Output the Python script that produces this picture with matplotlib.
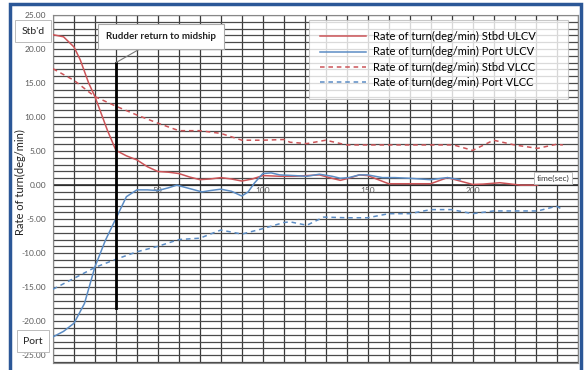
import matplotlib
matplotlib.use("Agg")
import matplotlib.pyplot as plt
from matplotlib.patches import Rectangle

plt.rcParams['font.family'] = ['Lato', 'DejaVu Sans']

# ---- data (time in seconds, rate of turn in deg/min) ----
t_stbd_ulcv = [0, 5, 10, 13, 17, 20, 23, 26, 30, 35, 40, 45, 50, 55, 60, 65, 70, 75, 80, 85, 90, 95,
               100, 108, 115, 121, 127, 133, 137, 142, 146, 150, 155, 160, 170, 180, 188, 194, 200,
               205, 213, 220, 223, 231]
v_stbd_ulcv = [22.1, 21.8, 20.3, 18.4, 15.0, 13.0, 10.5, 8.0, 5.1, 4.3, 3.7, 2.7, 2.0, 1.9, 1.7, 1.2,
               0.8, 0.9, 1.1, 0.9, 0.6, 0.9, 1.4, 1.3, 1.3, 1.4, 1.5, 1.0, 0.7, 1.1, 1.5, 1.4, 0.8,
               0.2, 0.2, 0.2, 1.1, 0.6, 0.1, 0.15, 0.35, 0.1, 0.0, 0.0]

t_port_ulcv = [0, 5, 10, 15, 20, 25, 30, 35, 40, 45, 50, 55, 59, 65, 71, 75, 80, 85, 90, 93, 96,
               100, 104, 108, 115, 121, 127, 133, 137, 141, 146, 150, 157, 163, 170, 180, 188, 194]
v_port_ulcv = [-22.3, -21.5, -20.3, -17.4, -12.0, -8.1, -4.9, -1.7, -0.7, -0.7, -0.8, -0.4, 0.0,
               -0.5, -1.0, -0.8, -0.6, -0.9, -1.6, -1.0, 0.3, 1.7, 1.8, 1.5, 1.4, 1.3, 1.6, 1.3, 1.0,
               1.1, 1.5, 1.5, 1.1, 1.1, 1.0, 0.8, 1.1, 0.8]

t_stbd_vlcc = [0, 10, 20, 30, 40, 50, 60, 70, 80, 90, 100, 110, 113, 121, 130, 140, 150, 160, 170,
               180, 191, 200, 210, 220, 231, 240, 243]
v_stbd_vlcc = [17.1, 15.4, 13.0, 11.6, 10.3, 9.1, 8.0, 8.0, 7.6, 6.6, 6.6, 6.7, 6.3, 6.1, 6.6, 5.9,
               5.9, 5.9, 5.9, 5.9, 5.9, 5.1, 6.6, 5.9, 5.4, 6.0, 5.9]

t_port_vlcc = [0, 10, 20, 30, 40, 50, 60, 70, 80, 90, 100, 110, 113, 121, 129, 140, 150, 160, 170,
               180, 190, 200, 210, 220, 231, 240, 243]
v_port_vlcc = [-15.3, -13.7, -12.1, -10.9, -9.8, -9.0, -8.0, -7.8, -6.6, -7.2, -6.4, -5.5, -5.4,
               -5.9, -4.7, -4.8, -4.8, -4.2, -4.2, -3.6, -3.6, -4.2, -3.8, -3.8, -3.8, -3.1, -3.6]

series_labels = ["Rate of turn(deg/min) Stbd ULCV", "Rate of turn(deg/min) Port ULCV",
                 "Rate of turn(deg/min) Stbd VLCC", "Rate of turn(deg/min) Port VLCC"]
y_ticks = [25, 20, 15, 10, 5, 0, -5, -10, -15, -20, -25]
x_tick_labels = [50, 100, 150, 200]
rudder_time = 30

RED = '#CC5458'
BLUE = '#5B8CC4'

W, H = 588, 370
AX_L, AX_R, AX_T, AX_B = 53, 577.5, 15, 362.7

fig = plt.figure(figsize=(W / 100, H / 100), dpi=100)
fig.patch.set_facecolor('white')
ax = fig.add_axes([AX_L / W, 1 - AX_B / H, (AX_R - AX_L) / W, (AX_B - AX_T) / H])

# outer blue frame
fig.patches.append(Rectangle((10 / W, -0.05), 571 / W, 1 - 4 / H + 0.05,
                             transform=fig.transFigure, fill=False, ec='#2B5797', lw=2.5,
                             clip_on=False))

ax.set_xlim(0, 250)
ax.set_ylim(-26.1, 25)

# grid
for x in range(0, 251, 10):
    ax.axvline(x, color='#3a3a3a', lw=0.9, zorder=1)
for y in range(-26, 26):
    ax.axhline(y, color='#4a4a4a', lw=0.9, zorder=1)
ax.axhline(0, color='#222222', lw=1.1, zorder=1.5)
for s in ax.spines.values():
    s.set_color('#888888')
    s.set_linewidth(0.8)

ax.set_xticks([])
ax.set_yticks(y_ticks)
ax.set_yticklabels([f"{v:.2f}" for v in y_ticks], fontsize=6, color='#595959')
ax.tick_params(axis='y', length=0, pad=5)

for xv in x_tick_labels:
    ax.text(xv, -0.35, str(xv), ha='center', va='top', fontsize=6, color='#595959', zorder=3)

fig.text(20 / W, 1 - 182 / H, "Rate of turn(deg/min)", rotation=90, ha='center', va='center',
         fontsize=8, color='#222222')

l1, = ax.plot(t_stbd_ulcv, v_stbd_ulcv, color=RED, lw=1.1, zorder=4)
l2, = ax.plot(t_port_ulcv, v_port_ulcv, color=BLUE, lw=1.1, zorder=4)
l3, = ax.plot(t_stbd_vlcc, v_stbd_vlcc, color=RED, lw=1.1, ls=(0, (3, 2.5)), zorder=4)
l4, = ax.plot(t_port_vlcc, v_port_vlcc, color=BLUE, lw=1.1, ls=(0, (3, 2.5)), zorder=4)

# rudder line
ax.plot([rudder_time, rudder_time], [-18, 18], color='black', lw=2, zorder=5)

ax_w = AX_R - AX_L
ax_h = AX_B - AX_T
leg = ax.legend([l1, l2, l3, l4], series_labels, loc='upper left', mode='expand',
                bbox_to_anchor=((309 - AX_L) / ax_w, 0, (568 - 309) / ax_w, (AX_B - 20) / ax_h),
                fontsize=8, frameon=True, fancybox=False, handlelength=4.1,
                handletextpad=0.7, labelspacing=0.38, borderpad=1.0, borderaxespad=0)
leg.get_frame().set_edgecolor('#BBBBBB')
leg.get_frame().set_linewidth(0.8)
leg.set_zorder(6)

# annotation callout
ax.annotate("Rudder return to midship", xy=(rudder_time, 18), xytext=(51.5, 21.8),
            ha='center', va='center', fontsize=7, fontweight='bold', color='#222222',
            bbox=dict(boxstyle='square,pad=0.8', fc='white', ec='#AAAAAA', lw=0.8),
            arrowprops=dict(arrowstyle='-', color='#777777', lw=0.8, shrinkA=0, shrinkB=0),
            zorder=6)

# side boxes
fig.text(33 / W, 1 - 31 / H, "Stb'd", ha='center', va='center', fontsize=7.5, color='#222222',
         bbox=dict(boxstyle='square,pad=0.6', fc='white', ec='#BBBBBB', lw=0.7))
fig.text(33 / W, 1 - 341 / H, "Port", ha='center', va='center', fontsize=7.5, color='#222222',
         bbox=dict(boxstyle='square,pad=0.6', fc='white', ec='#BBBBBB', lw=0.7))
ax.text(238.3, 1.0, "time(sec)", ha='center', va='center', fontsize=6, color='#333333', zorder=6,
        bbox=dict(boxstyle='square,pad=0.3', fc='white', ec='#BBBBBB', lw=0.7))

fig.savefig("out.png", dpi=100, facecolor='white')
